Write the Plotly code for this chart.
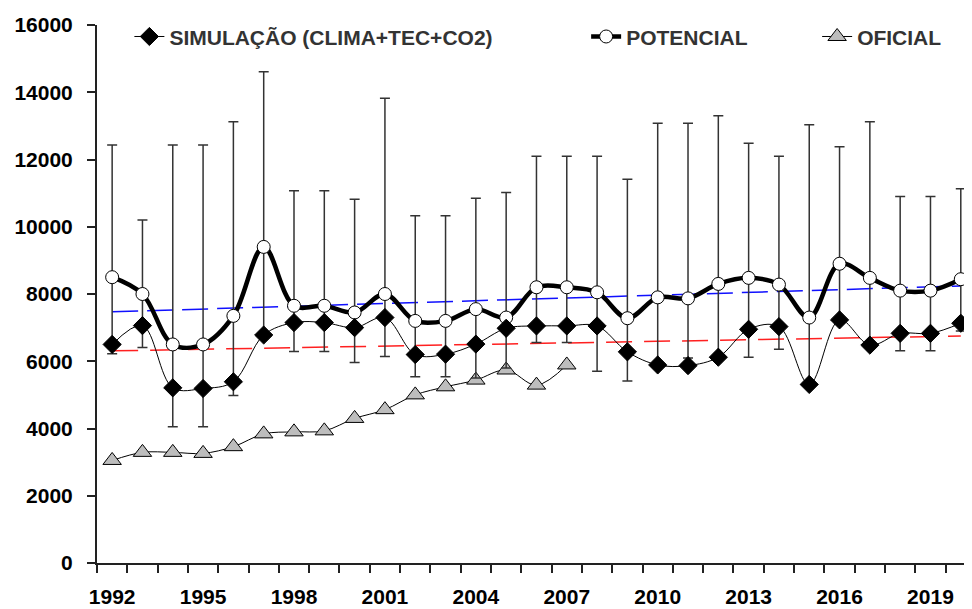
import plotly.graph_objects as go

# data
years = [1992, 1993, 1994, 1995, 1996, 1997, 1998, 1999, 2000, 2001,
         2002, 2003, 2004, 2005, 2006, 2007, 2008, 2009, 2010, 2011,
         2012, 2013, 2014, 2015, 2016, 2017, 2018, 2019, 2020]

simulacao = [6500, 7060, 5210, 5190, 5390, 6780, 7150, 7150, 7000, 7300,
             6200, 6210, 6510, 6980, 7050, 7050, 7050, 6280, 5890, 5870,
             6120, 6950, 7030, 5310, 7230, 6480, 6830, 6830, 7130]

potencial = [8500, 8000, 6500, 6500, 7350, 9400, 7650, 7650, 7450, 8000,
             7200, 7200, 7550, 7300, 8200, 8200, 8050, 7280, 7900, 7870,
             8300, 8480, 8280, 7300, 8900, 8480, 8100, 8100, 8440]

# upper / lower whisker ends (attached to the potencial series)
upper = [12430, 10200, 12430, 12430, 13120, 14610, 11070, 11070, 10820, 13820,
         10330, 10330, 10850, 11020, 12100, 12100, 12100, 11410, 13080, 13080,
         13300, 12480, 12100, 13030, 12380, 13120, 10900, 10900, 11130]
lower = [6220, 6410, 4050, 4050, 4980, 6780, 6290, 6290, 5960, 6140,
         5540, 5540, 5500, 5800, 6560, 6560, 5700, 5410, 5900, 6100,
         6150, 6120, 6360, 5350, 7250, 6500, 6310, 6310, 6900]

oficial_years = [1992, 1993, 1994, 1995, 1996, 1997, 1998, 1999,
                 2000, 2001, 2002, 2003, 2004, 2005, 2006, 2007]
oficial = [3050, 3290, 3290, 3260, 3460, 3840, 3900, 3930,
           4300, 4560, 5000, 5240, 5440, 5740, 5290, 5890]

# linear trend lines, end points
trend_years = [1992, 2020]
trend_potencial = [7470, 8240]
trend_simulacao = [6310, 6750]

x_labels = [1992, 1995, 1998, 2001, 2004, 2007, 2010, 2013, 2016, 2019]
y_ticks = [0, 2000, 4000, 6000, 8000, 10000, 12000, 14000, 16000]

FONT = "Liberation Sans, Arial, sans-serif"
ink = "#222222"

err_plus = [u - p for u, p in zip(upper, potencial)]
err_minus = [p - l for p, l in zip(potencial, lower)]

fig = go.Figure()

fig.add_trace(
    go.Scatter(
        x=oficial_years,
        y=oficial,
        name="OFICIAL",
        mode="lines+markers",
        line=dict(color="black", width=1, shape="spline"),
        marker=dict(symbol="triangle-up", size=16, color="#BDBDBD",
                    line=dict(color="black", width=1)),
        legend="legend3",
    )
)

fig.add_trace(
    go.Scatter(
        x=trend_years, y=trend_potencial, mode="lines", showlegend=False,
        line=dict(color="#1010FF", width=1.5, dash="26px,9px"),
        hoverinfo="skip",
    )
)
fig.add_trace(
    go.Scatter(
        x=trend_years, y=trend_simulacao, mode="lines", showlegend=False,
        line=dict(color="#FF2020", width=1.5, dash="26px,12px"),
        hoverinfo="skip",
    )
)

fig.add_trace(
    go.Scatter(
        x=years,
        y=potencial,
        name="POTENCIAL",
        mode="lines+markers",
        line=dict(color="black", width=4.5, shape="spline"),
        marker=dict(symbol="circle", size=13, color="white",
                    line=dict(color="black", width=1)),
        error_y=dict(type="data", symmetric=False, array=err_plus,
                     arrayminus=err_minus, color="#333333", thickness=1.5,
                     width=5),
        legend="legend2",
    )
)

fig.add_trace(
    go.Scatter(
        x=years,
        y=simulacao,
        name="SIMULAÇÃO (CLIMA+TEC+CO2)",
        mode="lines+markers",
        line=dict(color="black", width=1, shape="spline"),
        marker=dict(symbol="diamond", size=14, color="black",
                    line=dict(color="black", width=1)),
        legend="legend",
    )
)

leg_font = dict(family=FONT, size=21, color="#333333", weight="bold")
leg_common = dict(orientation="h", yanchor="middle", y=0.978, xanchor="left",
                  bgcolor="rgba(0,0,0,0)", font=leg_font)

# the page body has an 8px margin, so the figure is made 8px smaller
fig.update_layout(
    width=964,
    height=601,
    margin=dict(l=89, r=0, t=17, b=46),
    paper_bgcolor="white",
    plot_bgcolor="white",
    font=dict(family=FONT, color="black"),
    legend=dict(x=0.037, **leg_common),
    legend2=dict(x=0.559, **leg_common),
    legend3=dict(x=0.823, **leg_common),
    xaxis=dict(
        range=[1991.5, 2020.37],
        tickmode="array",
        tickvals=x_labels,
        ticktext=[str(v) for v in x_labels],
        ticks="",
        minor=dict(tickmode="array",
                   tickvals=[y - 0.5 for y in years] + [years[-1] + 0.5],
                   ticks="outside", ticklen=8, tickwidth=1.5, tickcolor=ink),
        showline=True,
        linecolor=ink,
        linewidth=2,
        showgrid=False,
        zeroline=False,
        ticklabelstandoff=14,
        tickfont=dict(family=FONT, size=21, color="black", weight="bold"),
    ),
    yaxis=dict(
        range=[0, 16000],
        tickmode="array",
        tickvals=y_ticks,
        ticktext=[str(v) for v in y_ticks],
        ticks="outside",
        ticklen=8,
        tickwidth=1.5,
        tickcolor=ink,
        showline=True,
        linecolor=ink,
        linewidth=2,
        showgrid=False,
        zeroline=False,
        ticklabelstandoff=10,
        tickfont=dict(family=FONT, size=21, color="black", weight="bold"),
    ),
)

fig.write_html("out.html")
